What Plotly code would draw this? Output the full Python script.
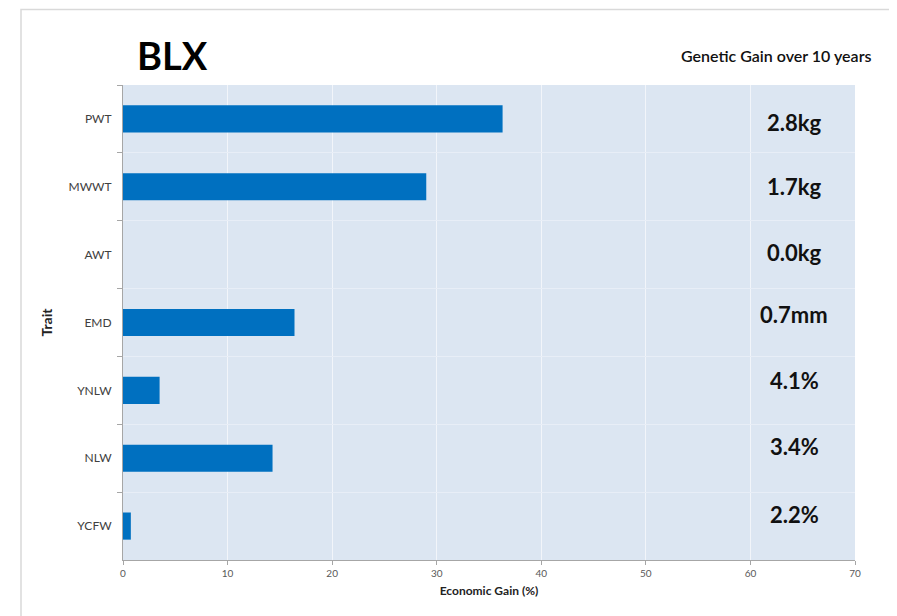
import plotly.graph_objects as go

traits = ["PWT", "MWWT", "AWT", "EMD", "YNLW", "NLW", "YCFW"]
economic_gain = [36.3, 29.0, 0.0, 16.4, 3.5, 14.3, 0.75]
genetic_gain_labels = ["2.8kg", "1.7kg", "0.0kg", "0.7mm", "4.1%", "3.4%", "2.2%"]
label_shifts = [-4, 0, 2, 8, 10, 12, 12]

W, H = 897, 616
OFF = 8  # page body margin
X0, X1, Y0, Y1 = 123, 855, 85, 560
L, T = X0 - OFF, Y0 - OFF
R, B = W + OFF - X1, H + OFF - Y1
pw, ph = X1 - X0, Y1 - Y0

def px(x):
    return (x - X0) / pw

def py(y):
    return (Y1 - y) / ph

fig = go.Figure()
fig.add_trace(go.Bar(
    x=economic_gain, y=traits, orientation="h",
    marker=dict(color="#0070c0", line=dict(width=0)),
    width=0.4, showlegend=False,
))

for t, lab, s in zip(traits, genetic_gain_labels, label_shifts):
    fig.add_annotation(x=px(794), xref="paper", y=t, yref="y", text="<b>" + lab + "</b>", showarrow=False,
                       yshift=s, font=dict(family="Lato", size=22, color="#111111"),
                       xanchor="center")

fig.add_annotation(x=px(135), xref="paper", y=py(55), yref="paper", text="<b>BLX</b>",
                   showarrow=False, xanchor="left", yanchor="middle",
                   font=dict(family="Lato", size=38, color="#000000"))
fig.add_annotation(x=px(873), xref="paper", y=py(55), yref="paper", text="Genetic Gain over 10 years",
                   showarrow=False, xanchor="right", yanchor="middle",
                   font=dict(family="Lato", size=16, color="#111111", weight=600))

fig.add_shape(type="rect", xref="paper", yref="paper",
              x0=px(21), x1=px(910), y0=py(9.5), y1=py(640),
              line=dict(color="#d9d9d9", width=1.5), fillcolor="rgba(0,0,0,0)", layer="below")

fig.update_layout(
    width=W, height=H,
    margin=dict(l=L, r=R, t=T, b=B),
    paper_bgcolor="white",
    plot_bgcolor="#dce6f2",
    font=dict(family="Lato", color="#404040"),
    xaxis=dict(range=[0, 70], dtick=10, showgrid=True, gridcolor="#f2f5fa", gridwidth=1,
               zeroline=False, showline=True, linecolor="#a6a6a6",
               ticks="outside", ticklen=4, tickcolor="#a6a6a6",
               tickfont=dict(size=10, color="#595959"),
               title=dict(text="<b>Economic Gain (%)</b>", font=dict(size=12, color="#222222"), standoff=8)),
    yaxis=dict(autorange="reversed", showgrid=True, gridcolor="#e8eef7", tickson="boundaries",
               showline=True, linecolor="#a6a6a6", ticks="outside", ticklen=5, tickcolor="#a6a6a6",
               ticklabelstandoff=8,
               tickfont=dict(size=12, color="#404040"),
               title=dict(text="<b>Trait</b>", font=dict(size=14, color="#222222"), standoff=12)),
    bargap=0.6,
)

fig.write_html("out.html")
